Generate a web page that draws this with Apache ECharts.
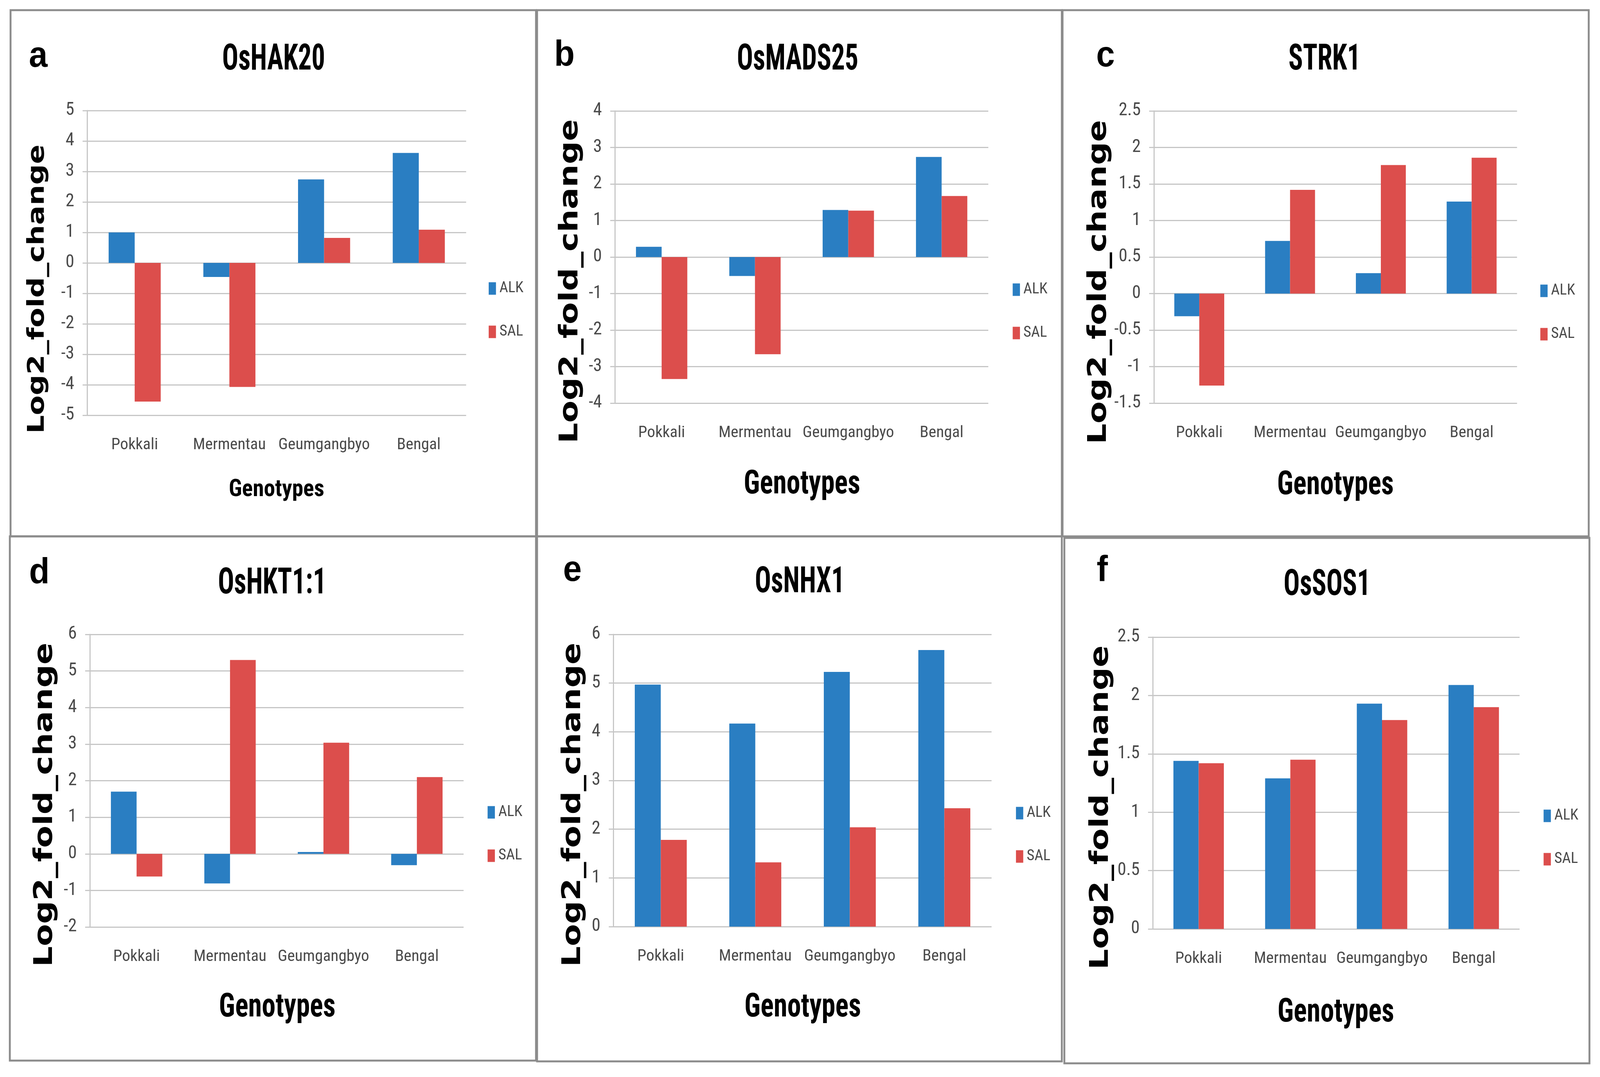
<!DOCTYPE html>
<html><head><meta charset="utf-8">
<script src="https://cdn.jsdelivr.net/npm/echarts@6/dist/echarts.min.js"></script>
<style>html,body{margin:0;padding:0;background:#fff;overflow:hidden}#c{position:absolute;left:0;top:0}</style>
</head><body><div id="c"></div><script>
// ---- data ----
const categories = ['Pokkali', 'Mermentau', 'Geumgangbyo', 'Bengal'];
const seriesNames = ['ALK', 'SAL'];
const panelLetters = ['a', 'b', 'c', 'd', 'e', 'f'];
const geneNames = ['OsHAK20', 'OsMADS25', 'STRK1', 'OsHKT1:1', 'OsNHX1', 'OsSOS1'];
const yAxisTitle = 'Log2_fold_change';
const xAxisTitle = 'Genotypes';

const alkOsHAK20 = [1.00, -0.46, 2.74, 3.61];
const salOsHAK20 = [-4.55, -4.07, 0.82, 1.09];
const alkOsMADS25 = [0.28, -0.52, 1.29, 2.74];
const salOsMADS25 = [-3.34, -2.66, 1.27, 1.67];
const alkSTRK1 = [-0.31, 0.72, 0.28, 1.26];
const salSTRK1 = [-1.26, 1.42, 1.76, 1.86];
const alkOsHKT11 = [1.70, -0.81, 0.05, -0.31];
const salOsHKT11 = [-0.62, 5.30, 3.04, 2.10];
const alkOsNHX1 = [4.97, 4.17, 5.23, 5.68];
const salOsNHX1 = [1.78, 1.32, 2.04, 2.43];
const alkOsSOS1 = [1.44, 1.29, 1.93, 2.09];
const salOsSOS1 = [1.42, 1.45, 1.79, 1.90];

const yMins = [-5, -4, -1.5, -2, 0, 0];
const yMaxs = [5, 4, 2.5, 6, 6, 2.5];
const ySteps = [1, 1, 0.5, 1, 1, 0.5];

const panelValues = [
  [alkOsHAK20, salOsHAK20], [alkOsMADS25, salOsMADS25], [alkSTRK1, salSTRK1],
  [alkOsHKT11, salOsHKT11], [alkOsNHX1, salOsNHX1], [alkOsSOS1, salOsSOS1]
];

// ---- layout (pixels in a 4397 x 2757 frame) ----
const layout = [
  {box:[29,26,1473,1373], grid:[240,283,1041,780], title:[752,155], letter:[105,146], yname:[104,740,74], xname:[760,1254,62,1], legend:[1343,719]},
  {box:[1476,26,2918,1373], grid:[1690,284,1026,748], title:[2192,155], letter:[1551,143], yname:[1568,720,83], xname:[2204,1241,86,0.88], legend:[2783,722]},
  {box:[2920,26,4366,1373], grid:[3171,284,998,748], title:[3640,155], letter:[3038,145], yname:[3020,722,83], xname:[3670,1243,86,0.88], legend:[4233,725]},
  {box:[27,1373,1473,2715], grid:[247,1624,1027,749], title:[748,1496], letter:[108,1468], yname:[124,2060,83], xname:[762,2580,86,0.88], legend:[1340,2060]},
  {box:[1476,1373,2918,2717], grid:[1686,1624,1039,748], title:[2198,1493], letter:[1573,1462], yname:[1576,2060,83], xname:[2206,2580,86,0.88], legend:[2792,2062]},
  {box:[2925,1377,4368,2722], grid:[3168,1631,1008,747], title:[3647,1500], letter:[3029,1462], yname:[3026,2067,83], xname:[3671,2593,86,0.88], legend:[4242,2069]}
];

const W0 = 4397, H0 = 2757;
const vw = window.innerWidth || W0, vh = window.innerHeight || H0;
const sx = vw / W0, sy = vh / H0, sf = Math.sqrt(sx * sy), kx = sx / sy;
const X = v => v * sx, Y = v => v * sy, F = v => v * sf;

const el = document.getElementById('c');
el.style.width = vw + 'px';
el.style.height = vh + 'px';

const colors = ['#2a7ec2', '#dc4e4c'];
const NARROW = "'Liberation Sans Narrow','Arial Narrow','Roboto Condensed',sans-serif";
const gridColor = '#c6c6c6';
const labelColor = '#4a4a4a';

const grids = [], xAxes = [], yAxes = [], series = [], legends = [], graphics = [];

layout.forEach((L, i) => {
  grids.push({left: X(L.grid[0]), top: Y(L.grid[1]), width: X(L.grid[2]), height: Y(L.grid[3]), containLabel: false});
  xAxes.push({
    type: 'category', gridIndex: i, data: categories, position: 'bottom',
    axisLine: {show: false, onZero: false}, axisTick: {show: false},
    axisLabel: {fontFamily: NARROW, fontSize: F(43), color: labelColor, margin: Y(56), interval: 0}
  });
  yAxes.push({
    type: 'value', gridIndex: i, min: yMins[i], max: yMaxs[i], interval: ySteps[i],
    axisLine: {show: true, lineStyle: {color: gridColor, width: F(3)}},
    axisTick: {show: true, length: X(13), lineStyle: {color: gridColor, width: F(3)}},
    splitLine: {show: true, lineStyle: {color: gridColor, width: F(3)}},
    axisLabel: {fontFamily: NARROW, fontSize: F(47), color: labelColor, margin: X(36)}
  });
  seriesNames.forEach((nm, k) => {
    series.push({
      type: 'bar', name: nm, xAxisIndex: i, yAxisIndex: i,
      data: panelValues[i][k], itemStyle: {color: colors[k]},
      barGap: '0%', barCategoryGap: '45%', animation: false
    });
  });
  legends.push({
    data: seriesNames, orient: 'vertical', left: X(L.legend[0]), top: Y(L.legend[1]), padding: 0,
    itemWidth: X(20), itemHeight: Y(32), itemGap: Y(72), icon: 'rect',
    textStyle: {fontFamily: NARROW, fontSize: F(40), color: labelColor, padding: [0, 0, 0, X(4)]}
  });
  graphics.push({
    type: 'rect', shape: {x: X(L.box[0]), y: Y(L.box[1]), width: X(L.box[2]-L.box[0]), height: Y(L.box[3]-L.box[1])},
    style: {fill: 'none', stroke: '#8c8c8c', lineWidth: F(5)}, silent: true
  });
  graphics.push({
    type: 'text', x: X(L.title[0]), y: Y(L.title[1]), scaleX: 0.8 * kx,
    style: {text: geneNames[i], fontFamily: NARROW, fontWeight: 'bold', fontSize: Y(92), fill: '#000',
      textAlign: 'center', textVerticalAlign: 'middle', align: 'center', verticalAlign: 'middle'}
  });
  graphics.push({
    type: 'text', x: X(L.letter[0]), y: Y(L.letter[1]), scaleX: kx,
    style: {text: panelLetters[i], fontFamily: "'Liberation Sans',Arial,sans-serif", fontWeight: 'bold', fontSize: Y(92), fill: '#000',
      textAlign: 'center', textVerticalAlign: 'middle', align: 'center', verticalAlign: 'middle'}
  });
  graphics.push({
    type: 'text', x: X(L.xname[0]), y: Y(L.xname[1]), scaleX: L.xname[3] * kx,
    style: {text: xAxisTitle, fontFamily: NARROW, fontWeight: 'bold', fontSize: Y(L.xname[2]), fill: '#000',
      textAlign: 'center', textVerticalAlign: 'middle', align: 'center', verticalAlign: 'middle'}
  });
  graphics.push({
    type: 'text', x: X(L.yname[0]), y: Y(L.yname[1]), rotation: Math.PI/2, scaleY: 0.86 * kx,
    style: {text: yAxisTitle, fontFamily: "'DejaVu Sans',Verdana,sans-serif", fontWeight: 'bold', fontSize: Y(L.yname[2]), fill: '#000',
      textAlign: 'center', textVerticalAlign: 'middle', align: 'center', verticalAlign: 'middle'}
  });
});

const chart = echarts.init(el, null, {renderer: 'canvas'});
chart.setOption({
  backgroundColor: '#ffffff',
  animation: false,
  grid: grids, xAxis: xAxes, yAxis: yAxes, series: series, legend: legends,
  graphic: {elements: graphics}
});
</script></body></html>
